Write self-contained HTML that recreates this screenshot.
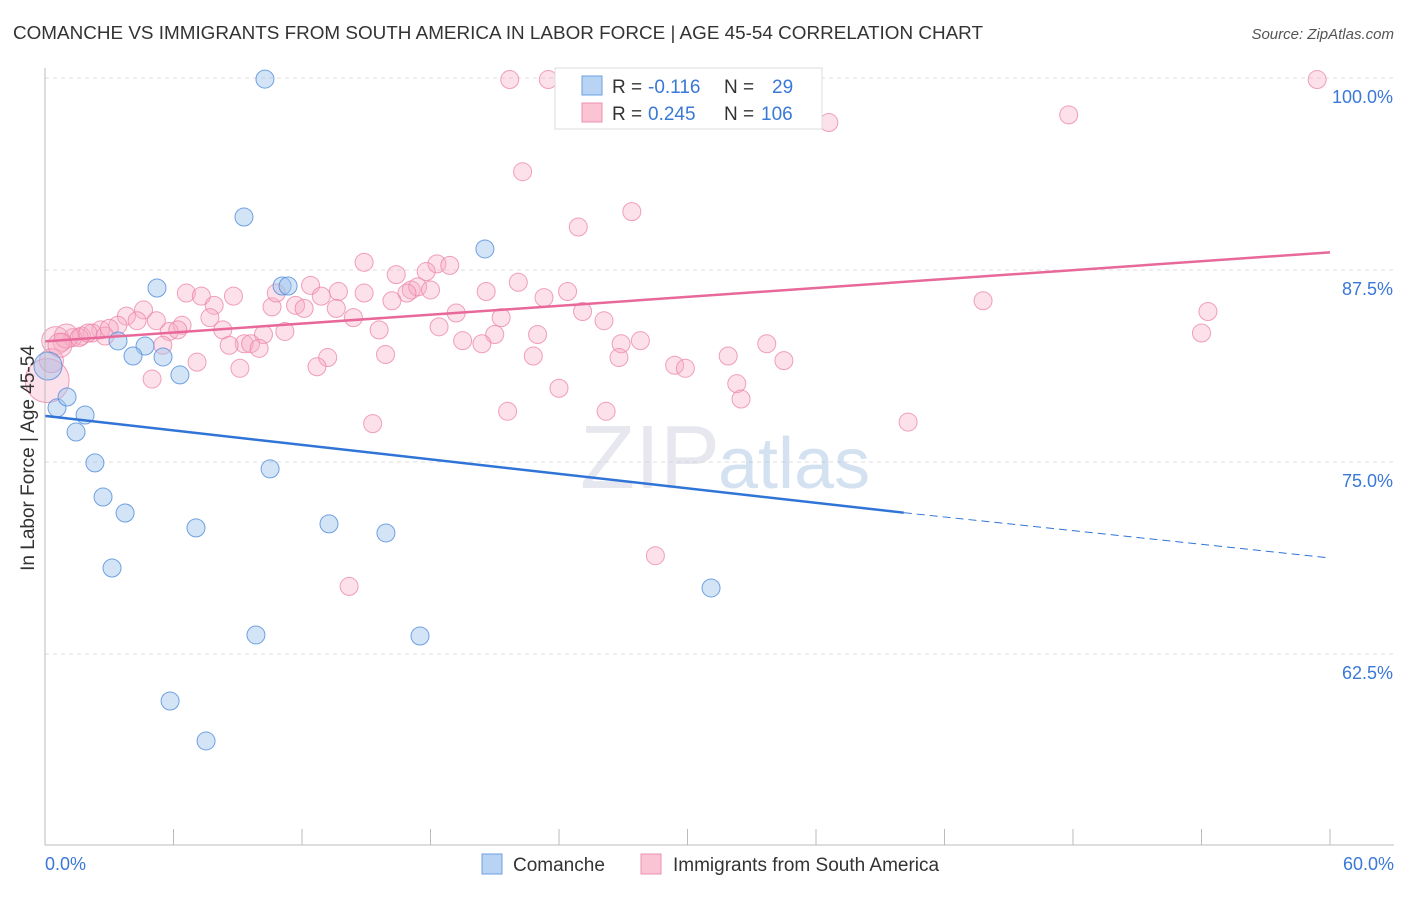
<!DOCTYPE html>
<html><head><meta charset="utf-8">
<style>
body{margin:0;background:#fff;font-family:"Liberation Sans",sans-serif;}
svg text{font-family:"Liberation Sans",sans-serif;}
</style></head>
<body>
<svg id="chart" width="1406" height="892" viewBox="0 0 1406 892">
<text x="13" y="39" font-size="18" fill="#333" textLength="970" lengthAdjust="spacingAndGlyphs">COMANCHE VS IMMIGRANTS FROM SOUTH AMERICA IN LABOR FORCE | AGE 45-54 CORRELATION CHART</text>
<text x="1394" y="39" font-size="15" fill="#555" font-style="italic" text-anchor="end">Source: ZipAtlas.com</text>
<g id="grid"></g>
<text x="720" y="488" font-size="90" fill="#ccd" opacity="0.45" text-anchor="end" font-family="Liberation Serif">ZIP</text>
<text x="718" y="488" font-size="72" fill="#a9c4e4" opacity="0.5">atlas</text>
<g id="pts"></g>
<g id="lines"></g>
<g id="axes"></g>
<text x="34" y="458" font-size="19" fill="#333" text-anchor="middle" transform="rotate(-90 34 458)">In Labor Force | Age 45-54</text>
<g>
<rect x="555" y="68" width="267" height="61" fill="#fff" stroke="#ddd"/>
<rect x="582" y="76" width="20" height="19" fill="#b8d3f3" stroke="#6a9fe0"/>
<rect x="582" y="103" width="20" height="19" fill="#fac4d4" stroke="#ee90b0"/>
<text y="93" font-size="19" fill="#333"><tspan x="612">R =</tspan><tspan x="648" fill="#3a78d8">-0.116</tspan><tspan x="724">N =</tspan><tspan x="772" fill="#3a78d8">29</tspan></text>
<text y="120" font-size="19" fill="#333"><tspan x="612">R =</tspan><tspan x="648" fill="#3a78d8">0.245</tspan><tspan x="724">N =</tspan><tspan x="761" fill="#3a78d8">106</tspan></text>
</g>
<g>
<rect x="482" y="854" width="20" height="20" fill="#b8d3f3" stroke="#6a9fe0"/>
<text x="513" y="871" font-size="19" fill="#333">Comanche</text>
<rect x="641" y="854" width="20" height="20" fill="#fac4d4" stroke="#ee90b0"/>
<text x="673" y="871" font-size="19" fill="#333">Immigrants from South America</text>
</g>
</svg>
<script>
const xTicks=[0,60];
const yTicks=[62.5,75,87.5,100];
const blueX=[10.27,9.29,5.23,11.07,11.35,20.54,3.41,4.67,4.11,5.51,6.30,0.14,0.56,1.03,1.87,1.45,2.33,2.71,3.74,7.05,3.13,10.51,13.26,15.92,9.85,17.51,5.84,7.52,31.1];
const blueY=[99.93,90.95,86.33,86.46,86.46,88.87,82.88,82.55,81.90,81.84,80.67,81.25,78.52,79.23,78.06,76.95,74.94,72.72,71.68,70.71,68.10,74.55,70.97,70.38,63.74,63.67,59.44,56.84,66.80];
const blueR=[9,9,9,9,9,9,9,9,9,9,9,14,9,9,9,9,9,9,9,9,9,9,9,9,9,9,9,9,9];
const pinkX=[21.7,23.5,35.3,36.6,59.4,47.8,22.3,27.4,24.9,14.9,18.3,18.9,17.8,16.4,22.1,20.6,24.4,23.3,12.4,13.7,14.9,17.1,17.4,18.0,16.9,16.2,6.6,7.3,8.8,7.9,10.6,11.7,12.1,12.9,13.6,10.8,4.6,3.8,5.2,4.3,7.7,14.4,19.2,21.3,25.1,26.1,43.8,54.3,54.0,3.4,6.4,5.8,6.2,2.6,2.2,1.7,1.3,0.8,0.5,2.8,3.0,8.3,10.2,11.2,15.6,18.4,21.0,23.0,19.5,20.4,26.9,27.8,33.7,9.3,9.6,8.6,10.0,5.5,7.1,13.2,15.9,22.8,26.8,31.9,34.5,29.4,29.9,9.1,12.7,5.0,32.3,24.0,32.5,21.6,26.2,15.3,40.3,28.5,14.2,0.1,0.3,1.0,1.6,2.0,0.7];
const pinkY=[99.9,99.9,99.9,97.1,99.9,97.6,93.9,91.3,90.3,88.0,87.9,87.8,87.4,87.2,86.7,86.1,86.1,85.7,86.5,86.1,86.0,86.2,86.4,86.2,86.0,85.5,86.0,85.8,85.8,85.2,85.1,85.2,85.0,85.8,85.0,86.0,84.9,84.5,84.2,84.2,84.4,84.4,84.7,84.4,84.8,84.2,85.5,84.8,83.4,83.9,83.9,83.5,83.6,83.6,83.4,83.2,83.1,82.8,82.9,83.2,83.7,83.6,83.3,83.5,83.6,83.8,83.3,83.3,82.9,82.7,82.7,82.9,82.7,82.7,82.7,82.6,82.4,82.6,81.5,81.8,82.0,81.9,81.8,81.9,81.6,81.3,81.1,81.1,81.2,80.4,80.1,79.8,79.1,78.3,78.3,77.5,77.6,68.9,66.9,80.3,81.6,83.2,83.1,83.4,82.6];
const pinkR=[9,9,9,9,9,9,9,9,9,9,9,9,9,9,9,9,9,9,9,9,9,9,9,9,9,9,9,9,9,9,9,9,9,9,9,9,9,9,9,9,9,9,9,9,9,9,9,9,9,9,9,9,9,9,9,9,9,9,14,9,9,9,9,9,9,9,9,9,9,9,9,9,9,9,9,9,9,9,9,9,9,9,9,9,9,9,9,9,9,9,9,9,9,9,9,9,9,9,9,22,12,12,9,9,12];
const blueLine=[78.0,71.7,68.75];const blueLineX=[0,40.1,60];
const pinkLine=[82.85,88.65];const pinkLineX=[0,60];
const NS='http://www.w3.org/2000/svg';
const X=v=>45+v/60*1285;
const Y=v=>78+(100-v)/12.5*192;
function mk(t,a,p){const e=document.createElementNS(NS,t);for(const k in a)e.setAttribute(k,a[k]);p.appendChild(e);return e;}
const grid=document.getElementById('grid'),axes=document.getElementById('axes'),pts=document.getElementById('pts'),lines=document.getElementById('lines');
yTicks.forEach(v=>{
 const l=mk('line',{x1:45,x2:1394,y1:Y(v),y2:Y(v),stroke:'#ddd','stroke-dasharray':'4 4'},grid);
 
 
 const t=mk('text',{x:1393,y:Y(v)+25,'font-size':18,fill:'#3a78d8','text-anchor':'end'},axes);
 t.textContent=v.toFixed(1)+'%';
 
 
});
const al=mk('line',{x1:45,x2:45,y1:68,y2:845,stroke:'#bbb'},axes);


const bl=mk('line',{x1:45,x2:1394,y1:845,y2:845,stroke:'#bbb'},axes);


for(let i=0;i<=10;i++){const tk=mk('line',{x1:X(i*6),x2:X(i*6),y1:829,y2:845,stroke:'#bbb'},axes);
 
 }
xTicks.forEach((v,i)=>{const t=mk('text',{x:i?1394:45,y:870,'font-size':18,fill:'#3a78d8','text-anchor':i?'end':'start'},axes);
 t.textContent=v.toFixed(1)+'%';
 
 });
pinkX.forEach((v,i)=>{const c=mk('circle',{cx:X(v),cy:Y(pinkY[i]),r:pinkR[i],fill:'rgba(246,170,195,0.35)',stroke:'rgba(236,130,165,0.75)','stroke-width':1},pts);
 
 });
blueX.forEach((v,i)=>{const c=mk('circle',{cx:X(v),cy:Y(blueY[i]),r:blueR[i],fill:'rgba(160,195,238,0.45)',stroke:'rgba(80,140,220,0.8)','stroke-width':1},pts);
 
 });
const b1=mk('line',{x1:X(blueLineX[0]),y1:Y(blueLine[0]),x2:X(blueLineX[1]),y2:Y(blueLine[1]),stroke:'#2f74d6','stroke-width':2.5},lines);


const b2=mk('line',{x1:X(blueLineX[1]),y1:Y(blueLine[1]),x2:X(blueLineX[2]),y2:Y(blueLine[2]),stroke:'#2f74d6','stroke-width':1,'stroke-dasharray':'8 5'},lines);


const p1=mk('line',{x1:X(pinkLineX[0]),y1:Y(pinkLine[0]),x2:X(pinkLineX[1]),y2:Y(pinkLine[1]),stroke:'#e8689a','stroke-width':2.5},lines);


</script>
</body></html>
